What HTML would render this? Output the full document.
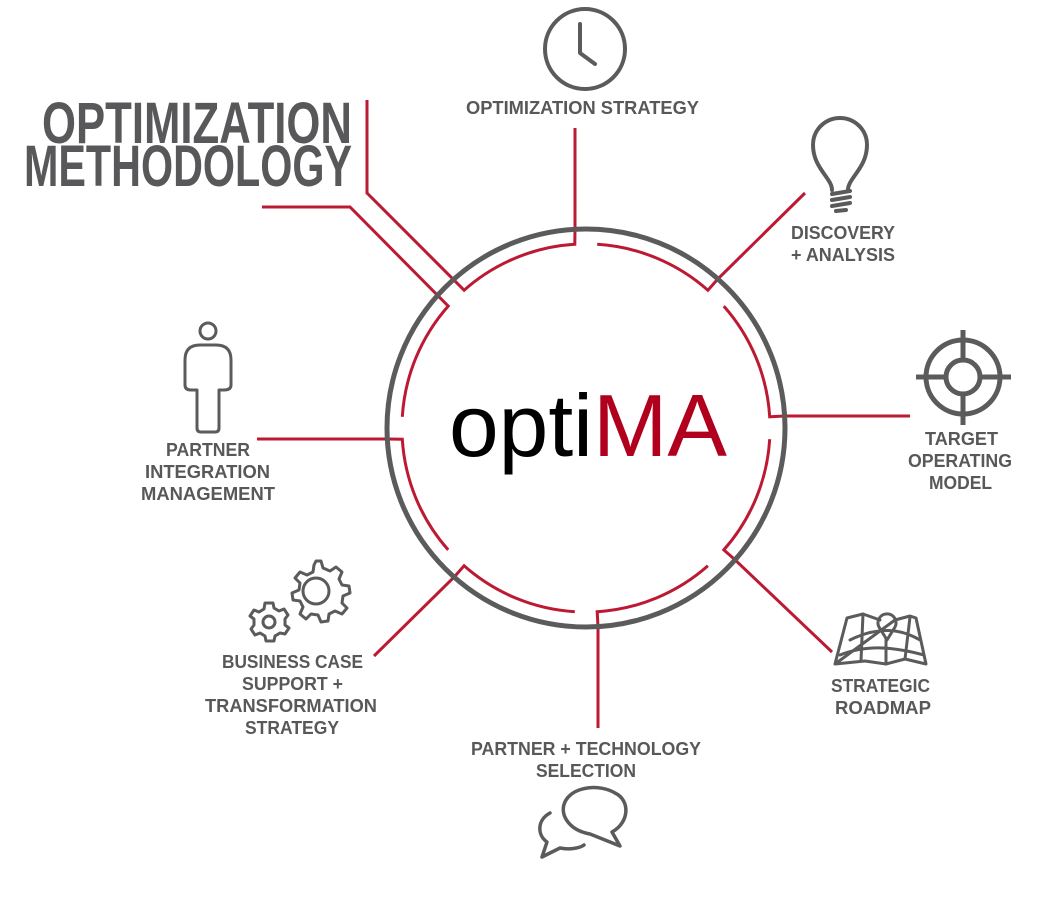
<!DOCTYPE html>
<html><head><meta charset="utf-8"><style>
html,body{margin:0;padding:0;background:#fff;}
svg{display:block;}
.l{font-family:"Liberation Sans",sans-serif;font-weight:bold;fill:#58585a;font-size:18px;}
</style></head><body>
<svg width="1057" height="899" viewBox="0 0 1057 899" xmlns="http://www.w3.org/2000/svg">
<g fill="none" stroke="#bb1a32" stroke-width="3">
<path d="M597.2,244.3 A184,184 0 0 1 707.9,290.2 L717.9,278.9 L805,193"/>
<path d="M723.8,306.1 A184,184 0 0 1 769.7,416.8 L784.6,416 L910,416"/>
<path d="M769.7,439.2 A184,184 0 0 1 723.8,549.9 L735.1,559.9 L832,652"/>
<path d="M707.9,565.8 A184,184 0 0 1 597.2,611.7 L598,626.6 L598,728"/>
<path d="M574.8,611.7 A184,184 0 0 1 464.1,565.8 L454.1,577.1 L374,656"/>
<path d="M448.2,549.9 A184,184 0 0 1 402.3,439.2 L387.4,439 L257,439"/>
<path d="M402.3,416.8 A184,184 0 0 1 448.2,306.1 L350,207 L262,207"/>
<path d="M367,100 L367,193 L464.1,290.2 A184,184 0 0 1 574.8,244.3 L575,229 L575,128"/>
</g>
<circle cx="586" cy="428" r="199" fill="none" stroke="#5b5b5b" stroke-width="5"/>
<text x="588" y="456" text-anchor="middle" font-family="Liberation Sans, sans-serif" font-size="88" textLength="278" lengthAdjust="spacingAndGlyphs"><tspan fill="#000">opti</tspan><tspan fill="#b0001e">MA</tspan></text>

<text class="l" x="42" y="143" style="font-size:58px" textLength="310" lengthAdjust="spacingAndGlyphs">OPTIMIZATION</text>
<text class="l" x="24" y="186" style="font-size:58px" textLength="328" lengthAdjust="spacingAndGlyphs">METHODOLOGY</text>

<text class="l" x="466" y="114" textLength="233" lengthAdjust="spacingAndGlyphs">OPTIMIZATION STRATEGY</text>
<text class="l" x="791" y="239" textLength="104" lengthAdjust="spacingAndGlyphs">DISCOVERY</text>
<text class="l" x="791" y="261" textLength="104" lengthAdjust="spacingAndGlyphs">+ ANALYSIS</text>
<text class="l" x="925" y="445" textLength="73" lengthAdjust="spacingAndGlyphs">TARGET</text>
<text class="l" x="908" y="467" textLength="104" lengthAdjust="spacingAndGlyphs">OPERATING</text>
<text class="l" x="929" y="489" textLength="63" lengthAdjust="spacingAndGlyphs">MODEL</text>
<text class="l" x="831" y="692" textLength="99" lengthAdjust="spacingAndGlyphs">STRATEGIC</text>
<text class="l" x="835" y="714" textLength="96" lengthAdjust="spacingAndGlyphs">ROADMAP</text>
<text class="l" x="471" y="755" textLength="230" lengthAdjust="spacingAndGlyphs">PARTNER + TECHNOLOGY</text>
<text class="l" x="536" y="777" textLength="100" lengthAdjust="spacingAndGlyphs">SELECTION</text>
<text class="l" x="222" y="668" textLength="141" lengthAdjust="spacingAndGlyphs">BUSINESS CASE</text>
<text class="l" x="242" y="690" textLength="101" lengthAdjust="spacingAndGlyphs">SUPPORT +</text>
<text class="l" x="205" y="712" textLength="172" lengthAdjust="spacingAndGlyphs">TRANSFORMATION</text>
<text class="l" x="245" y="734" textLength="94" lengthAdjust="spacingAndGlyphs">STRATEGY</text>
<text class="l" x="166" y="456" textLength="84" lengthAdjust="spacingAndGlyphs">PARTNER</text>
<text class="l" x="145" y="478" textLength="125" lengthAdjust="spacingAndGlyphs">INTEGRATION</text>
<text class="l" x="141" y="500" textLength="134" lengthAdjust="spacingAndGlyphs">MANAGEMENT</text>

<g fill="none" stroke="#5b5b5b" stroke-width="4" stroke-linejoin="round" stroke-linecap="round">
<circle cx="585" cy="49" r="40"/>
<path d="M580,24 L580,53 L595,64"/>
<path d="M832,190 C832,178 813,168 813,145 C813,129 826,118 840,118 C854,118 867,129 867,145 C867,168 848,178 848,190"/>
<path d="M832,194 L850,191 M832,200 L850,197 M832,206 L850,203 M836,211 L846,210"/>
<circle cx="963" cy="377" r="37" stroke-width="5"/>
<circle cx="963" cy="377" r="17" stroke-width="5"/>
<path d="M916,377 L946,377 M980,377 L1011,377 M963,330 L963,360 M963,394 L963,425" stroke-width="5" stroke-linecap="butt"/>
<path d="M835,664 L847,618 L863,614 L880,620 M895,620 L910,616 L916,618 L926,664 L905,659 L886,664 L865,661 L835,664 Z" stroke-width="3"/>
<path d="M863,614 L861,661 M910,617 L905,659 M850,640 C870,630 895,625 920,640 M840,655 C865,645 890,646 924,655 M886,640 L886,664" stroke-width="3"/>
<path d="M887,640 L879,627 A9,9 0 1 1 895,627 Z" stroke-width="3"/>
<circle cx="208" cy="331" r="8" stroke-width="3"/>
<path d="M200,345 L216,345 Q231,345 231,360 L231,385 Q231,390 224,390 L219,390 L219,428 Q219,432 215,432 L201,432 Q197,432 197,428 L197,390 L191,390 Q185,390 185,385 L185,360 Q185,345 200,345 Z" stroke-width="3"/>
<circle cx="316" cy="591" r="13" stroke-width="3"/>
<path d="M316,561 l5,0 l2,7 l7,3 l6,-4 l6,5 l-3,7 l3,6 l7,1 l1,7 l-7,3 l-1,7 l5,5 l-5,6 l-7,-3 l-6,3 l-1,7 l-7,1 l-3,-7 l-7,-1 l-5,5 l-6,-5 l3,-7 l-3,-6 l-7,-1 l-1,-7 l7,-3 l1,-7 l-5,-5 l5,-6 l7,3 l6,-3 l1,-7 z" stroke-width="3"/>
<circle cx="269" cy="622" r="6" stroke-width="3"/>
<path d="M265,603 l8,0 l1,5 l5,3 l5,-2 l4,6 l-3,4 l0,6 l4,3 l-4,6 l-5,-1 l-5,3 l-1,5 l-8,0 l-1,-5 l-5,-3 l-5,2 l-4,-6 l3,-4 l0,-6 l-4,-3 l4,-6 l5,2 l5,-3 z" stroke-width="3"/>
<path d="M612,832 C630,822 630,800 615,793 C600,784 575,786 566,800 C558,813 568,830 590,834 L620,846 Z" stroke-width="3.5"/>
<path d="M550,813 C537,820 537,835 547,842 L542,857 L560,848 C570,850 580,848 584,845" stroke-width="3.5"/>
</g>
</svg>
</body></html>
